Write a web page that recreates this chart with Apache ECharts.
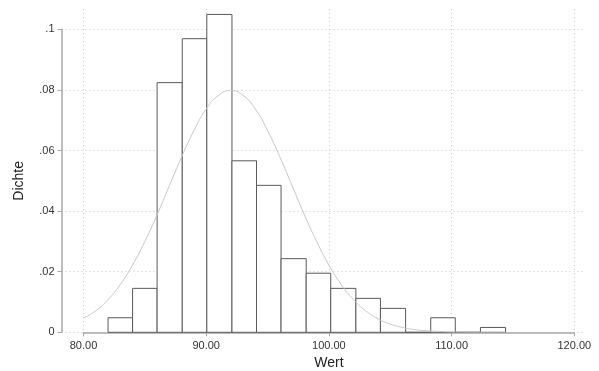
<!DOCTYPE html>
<html>
<head>
<meta charset="utf-8">
<script src="https://cdn.jsdelivr.net/npm/echarts@6/dist/echarts.min.js"></script>
<style>
html,body{margin:0;padding:0;background:#fff;}
#chart{width:599px;height:371px;}
</style>
</head>
<body>
<div id="chart"></div>
<script>
// Histogram bin edges
var binEdges = [82.0, 84.0, 86.0, 88.05, 90.05, 92.1, 94.1, 96.1, 98.15, 100.15, 102.2, 104.2, 106.25, 108.3, 110.3, 112.35, 114.4];
// Density per bin
var binDensity = [0.0048, 0.0145, 0.0824, 0.0969, 0.1049, 0.0566, 0.0485, 0.0243, 0.0195, 0.0145, 0.0112, 0.0079, 0.0, 0.0048, 0.0, 0.0016];
// Normal density curve points
var curveX = [80, 81, 82, 83, 84, 85, 86, 87, 88, 89, 90, 91, 92, 93, 94, 95, 96, 97, 98, 99, 100, 101, 102, 103, 104, 105, 106, 107, 108, 109, 110, 112, 114.4];
var curveY = [0.0047, 0.0071, 0.0108, 0.0158, 0.0222, 0.0300, 0.0388, 0.0484, 0.0579, 0.0666, 0.0737, 0.0782, 0.0798, 0.0782, 0.0737, 0.0666, 0.0579, 0.0484, 0.0388, 0.0300, 0.0222, 0.0158, 0.0108, 0.0071, 0.0045, 0.0027, 0.0016, 0.0009, 0.0005, 0.0003, 0.0001, 0.0, 0.0];
// Tick labels
var xTickValues = [80, 90, 100, 110, 120];
var xTickLabels = ['80.00', '90.00', '100.00', '110.00', '120.00'];
var yTickValues = [0, 0.02, 0.04, 0.06, 0.08, 0.1];
var yTickLabels = ['0', '.02', '.04', '.06', '.08', '.1'];

var barData = [];
for (var i = 0; i < binDensity.length; i++) {
  barData.push([binEdges[i], binEdges[i + 1], binDensity[i]]);
}
var curveData = curveX.map(function (x, i) { return [x, curveY[i]]; });

var FONT = '"Liberation Sans", Arial, sans-serif';
var chart = echarts.init(document.getElementById('chart'), null, { renderer: 'canvas' });
var gridLine = { show: true, lineStyle: { color: '#cccccc', type: [1, 3], width: 1 } };

var option = {
  backgroundColor: '#ffffff',
  animation: false,
  grid: [
    { left: 61.5, right: 16, top: 29.3, bottom: 38.7, containLabel: false, outerBoundsMode: 'none' },
    { left: 83.5, right: 24.7, top: 9, bottom: 38.7, containLabel: false, outerBoundsMode: 'none' }
  ],
  xAxis: [
    {
      gridIndex: 0, type: 'value', min: 0, max: 1, show: false
    },
    {
      gridIndex: 1, type: 'value', min: xTickValues[0], max: xTickValues[xTickValues.length - 1], interval: 10,
      name: 'Wert', nameLocation: 'middle', nameGap: 24,
      nameTextStyle: { fontFamily: FONT, fontSize: 14, color: '#222' },
      axisLine: { show: true, onZero: false, lineStyle: { color: '#a8a8a8', width: 1.5 } },
      axisTick: { show: true, length: 4, lineStyle: { color: '#a8a8a8', width: 1 } },
      axisLabel: {
        margin: 8, fontFamily: FONT, fontSize: 11, color: '#333',
        formatter: function (v) {
          var idx = xTickValues.indexOf(Math.round(v));
          return idx >= 0 ? xTickLabels[idx] : '';
        }
      },
      splitLine: gridLine
    }
  ],
  yAxis: [
    {
      gridIndex: 0, type: 'value', min: yTickValues[0], max: yTickValues[yTickValues.length - 1], interval: 0.02,
      name: 'Dichte', nameLocation: 'middle', nameGap: 35, nameRotate: 90,
      nameTextStyle: { fontFamily: FONT, fontSize: 14, color: '#222' },
      axisLine: { show: true, lineStyle: { color: '#a8a8a8', width: 1.5 } },
      axisTick: { show: true, length: 4, lineStyle: { color: '#a8a8a8', width: 1 } },
      axisLabel: {
        margin: 7, fontFamily: FONT, fontSize: 11, color: '#333',
        formatter: function (v) {
          var idx = Math.round(v / 0.02);
          return yTickLabels[idx] !== undefined ? yTickLabels[idx] : '';
        }
      },
      splitLine: gridLine
    },
    {
      gridIndex: 1, type: 'value', min: 0, max: 0.1 * (371 - 9 - 38.7) / (371 - 29.3 - 38.7), show: false,
      splitLine: { show: false }
    }
  ],
  series: [
    {
      type: 'custom',
      xAxisIndex: 1, yAxisIndex: 1,
      z: 3,
      data: barData,
      renderItem: function (params, api) {
        var p0 = api.coord([api.value(0), api.value(2)]);
        var p1 = api.coord([api.value(1), 0]);
        return {
          type: 'rect',
          shape: { x: p0[0], y: p0[1], width: p1[0] - p0[0], height: p1[1] - p0[1] },
          style: { fill: '#ffffff', stroke: '#5a5a5a', lineWidth: 1 }
        };
      }
    },
    {
      type: 'line',
      xAxisIndex: 1, yAxisIndex: 1,
      z: 4,
      data: curveData,
      smooth: true,
      showSymbol: false,
      symbol: 'none',
      lineStyle: { color: '#c8c8c8', width: 1 }
    }
  ]
};
chart.setOption(option);
</script>
</body>
</html>
